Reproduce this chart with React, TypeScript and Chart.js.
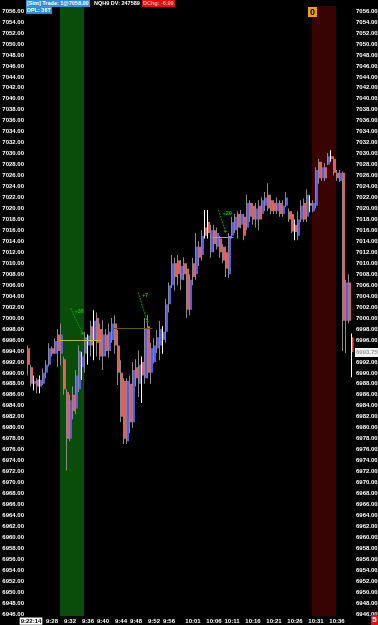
import { useEffect, useRef } from 'react';
import { Chart, registerables } from 'chart.js';

Chart.register(...registerables);

// ---- bar data (tick bars, left to right) ----
const opens = [
  6994.5, 6991.0, 6988.0, 6988.8, 6987.5, 6988.0, 6990.0, 6991.5, 6994.5, 6993.5,
  6997.0, 6993.5, 6992.5, 6986.5, 6978.0, 6986.0, 6983.5, 6987.0, 6991.0, 6993.5,
  6995.0, 6998.5, 6996.0, 7000.0, 6998.0, 6993.0, 6997.0, 6994.0, 6996.0, 6999.0,
  6995.0, 6990.0, 6988.5, 6977.5, 6988.0, 6981.0, 6991.0, 6988.0, 6992.0, 6989.0,
  6998.5, 6990.0, 6992.0, 6994.5, 6995.0, 6996.0, 6997.5, 7002.5, 7006.0, 7010.0,
  7010.5, 7007.0, 7010.0, 7009.0, 7001.5, 7010.0, 7008.0, 7013.0, 7011.5, 7016.5,
  7017.5, 7012.0, 7016.0, 7013.0, 7014.5, 7013.0, 7012.0, 7008.0, 7015.0, 7016.0,
  7019.0, 7017.0, 7018.5, 7016.5, 7021.0, 7020.5, 7018.0, 7020.5, 7019.0, 7020.5,
  7022.5, 7021.5, 7021.0, 7019.5, 7021.0, 7019.0, 7020.5, 7019.5, 7019.0, 7017.0,
  7015.0, 7018.0, 7021.0, 7018.5, 7021.0, 7019.5, 7020.5, 7028.5, 7025.5, 7027.5,
  7028.0, 7029.5, 7029.0, 7026.5, 7025.0, 7026.5, 6999.5, 7006.5, 6996.5,
];
const highs = [
  6995.0, 6991.5, 6989.5, 6989.0, 6989.5, 6990.8, 6992.3, 6995.4, 6994.8, 6996.3,
  6998.0, 6999.0, 6993.0, 6987.0, 6986.0, 6987.5, 6990.5, 6995.0, 6993.8, 6997.5,
  6997.0, 6999.5, 7001.4, 7001.0, 6999.0, 6999.6, 6998.0, 6999.0, 7000.0, 7000.5,
  6997.8, 6992.3, 6989.0, 6989.0, 6989.5, 6992.0, 6992.5, 6994.1, 6993.0, 7000.0,
  7000.5, 6995.5, 6996.3, 6997.8, 6999.5, 6998.5, 7003.5, 7006.5, 7011.5, 7011.0,
  7011.5, 7010.6, 7011.1, 7010.0, 7008.0, 7011.0, 7015.5, 7014.0, 7016.0, 7019.7,
  7019.7, 7017.0, 7017.0, 7016.5, 7015.0, 7013.5, 7013.0, 7015.5, 7018.5, 7019.0,
  7019.5, 7019.7, 7019.0, 7022.5, 7021.5, 7021.0, 7021.0, 7021.5, 7022.0, 7023.0,
  7024.6, 7022.5, 7021.5, 7022.0, 7021.5, 7021.5, 7023.0, 7020.0, 7019.5, 7018.0,
  7019.5, 7021.5, 7021.8, 7023.5, 7022.4, 7021.5, 7027.5, 7029.0, 7028.5, 7028.3,
  7030.1, 7030.6, 7029.5, 7027.0, 7027.0, 7026.8, 7007.0, 7008.0, 6997.2,
];
const lows = [
  6989.5, 6987.5, 6986.8, 6986.3, 6986.3, 6987.8, 6989.0, 6991.2, 6993.0, 6993.5,
  6991.0, 6991.4, 6986.0, 6972.2, 6977.5, 6981.5, 6982.5, 6986.5, 6988.7, 6990.0,
  6991.5, 6993.0, 6992.3, 6993.0, 6992.3, 6990.5, 6993.0, 6992.8, 6995.5, 6993.5,
  6987.8, 6981.0, 6977.0, 6977.0, 6979.0, 6980.0, 6987.5, 6985.6, 6984.5, 6988.0,
  6989.0, 6988.0, 6991.7, 6993.6, 6992.3, 6993.5, 6995.5, 7001.0, 7005.5, 7005.0,
  7006.0, 7005.1, 7006.9, 7000.0, 7000.5, 7006.0, 7007.0, 7009.5, 7010.5, 7014.5,
  7014.5, 7011.0, 7012.0, 7012.5, 7011.0, 7010.0, 7007.5, 7007.3, 7014.5, 7015.5,
  7014.5, 7016.4, 7014.2, 7016.0, 7017.5, 7017.0, 7016.5, 7016.0, 7018.0, 7019.5,
  7019.5, 7019.0, 7019.0, 7019.0, 7018.5, 7018.5, 7020.2, 7017.5, 7015.5, 7014.2,
  7014.2, 7017.5, 7017.5, 7017.5, 7019.3, 7019.3, 7020.0, 7024.5, 7025.0, 7025.0,
  7027.9, 7028.5, 7026.0, 7025.0, 7024.8, 6994.0, 6993.6, 6999.0, 6989.2,
];
const closes = [
  6991.5, 6988.0, 6988.5, 6987.5, 6988.7, 6990.0, 6991.5, 6994.5, 6993.5, 6995.8,
  6994.0, 6997.0, 6987.0, 6978.0, 6985.0, 6983.0, 6989.5, 6994.0, 6993.0, 6996.5,
  6996.8, 6995.0, 6999.5, 6995.5, 6993.0, 6997.0, 6994.0, 6997.5, 6999.0, 6995.0,
  6990.0, 6982.0, 6978.0, 6988.5, 6981.0, 6990.5, 6989.0, 6991.5, 6989.5, 6998.0,
  6990.0, 6994.5, 6995.0, 6996.5, 6998.0, 6997.5, 7002.5, 7006.0, 7010.0, 7007.5,
  7008.0, 7009.5, 7008.0, 7001.5, 7007.0, 7007.5, 7013.0, 7011.0, 7015.0, 7015.0,
  7015.5, 7016.0, 7013.5, 7015.5, 7012.0, 7010.5, 7009.0, 7015.0, 7017.5, 7018.5,
  7016.5, 7019.0, 7015.0, 7021.0, 7018.5, 7018.0, 7020.0, 7018.0, 7021.5, 7022.0,
  7020.0, 7019.5, 7019.5, 7021.0, 7019.0, 7020.5, 7022.0, 7018.0, 7015.8, 7015.7,
  7018.0, 7020.5, 7018.0, 7022.5, 7020.5, 7021.0, 7027.0, 7025.5, 7027.5, 7025.5,
  7029.5, 7029.0, 7026.5, 7025.5, 7026.5, 6999.5, 7006.5, 6999.5, 6993.75,
];

// ---- time axis labels (bar index -> label) ----
const timeTickIndex = [1, 8, 14, 20, 25, 31, 36, 42, 47, 55, 62, 68, 75, 82, 89, 96, 103];
const timeTickText = ['9:22:14', '9:28', '9:32', '9:36', '9:40', '9:44', '9:48', '9:52', '9:56',
  '10:01', '10:06', '10:11', '10:16', '10:21', '10:26', '10:31', '10:36'];

// ---- price axis ----
const priceMin = 6946;
const priceMax = 7056;
const priceStep = 2;
const priceTicks: number[] = [];
for (let v = priceMin; v <= priceMax + 1e-9; v += priceStep) priceTicks.push(v);

// ---- session shading (bar index ranges) ----
const bandStart = [11, 95];
const bandEnd = [18, 102];

// ---- horizontal level lines ----
const levelPrice = [6996.0, 6998.25, 7014.75];
const levelFrom = [11, 29, 62];
const levelTo = [24, 41, 68];

// ---- trade arrows ----
const arrowFromIdx = [14.2, 36.7, 63.5];
const arrowFromPrice = [7001.8, 7004.7, 7019.7];
const arrowToIdx = [18.2, 39.8, 65.8];
const arrowToPrice = [6997.2, 6999.3, 7015.8];
const arrowText = ['+36', '+7', '+29'];

const categories = opens.map((_, i) => String(i));
const lastPrice = closes[closes.length - 1];

const FONT = "'Liberation Sans', Arial, sans-serif";

export default function App() {
  const ref = useRef<HTMLCanvasElement>(null);

  useEffect(() => {
    document.body.style.margin = '0';
    document.body.style.background = '#000';
    const canvas = ref.current!;
    const tickFont = { size: 6, weight: 'bold' as const, family: FONT };

    const bandsPlugin = {
      id: 'bands',
      beforeDatasetsDraw(chart: any) {
        const { ctx, chartArea, scales } = chart;
        const colors = ['#0a4c0a', '#3a0303'];
        ctx.save();
        bandStart.forEach((s, k) => {
          const x0 = Math.round(scales.x.getPixelForValue(s - 0.5));
          const x1 = Math.round(scales.x.getPixelForValue(bandEnd[k] + 0.5));
          ctx.fillStyle = colors[k];
          ctx.fillRect(x0, chartArea.top, x1 - x0, chartArea.bottom - chartArea.top);
        });
        ctx.restore();
      },
    };

    const annotPlugin = {
      id: 'annot',
      afterDatasetsDraw(chart: any) {
        const { ctx, scales } = chart;
        const y = scales.yR;
        const x = scales.x;
        const levelColors = ['#b8b84a', '#5c5c12', '#c8a040'];
        ctx.save();
        levelPrice.forEach((p, k) => {
          const yy = Math.round(y.getPixelForValue(p)) + 0.5;
          ctx.strokeStyle = levelColors[k];
          ctx.lineWidth = 1;
          ctx.beginPath();
          ctx.moveTo(x.getPixelForValue(levelFrom[k] - 0.5), yy);
          ctx.lineTo(x.getPixelForValue(levelTo[k] + 0.5), yy);
          ctx.stroke();
        });
        ctx.strokeStyle = '#00a800';
        ctx.fillStyle = '#00c000';
        ctx.font = `bold 5.5px ${FONT}`;
        ctx.textBaseline = 'middle';
        arrowFromIdx.forEach((fi, k) => {
          const x0 = x.getPixelForValue(fi);
          const y0 = y.getPixelForValue(arrowFromPrice[k]);
          const x1 = x.getPixelForValue(arrowToIdx[k]);
          const y1 = y.getPixelForValue(arrowToPrice[k]);
          ctx.setLineDash([2, 1]);
          ctx.beginPath();
          ctx.moveTo(x0, y0);
          ctx.lineTo(x1, y1);
          ctx.stroke();
          ctx.setLineDash([]);
          ctx.beginPath();
          ctx.moveTo(x1 - 1.5, y1);
          ctx.lineTo(x1 + 1.5, y1);
          ctx.moveTo(x1, y1 - 1.5);
          ctx.lineTo(x1, y1 + 1.5);
          ctx.stroke();
          ctx.fillText(arrowText[k], x0 + 4, y0 + 3);
        });
        ctx.restore();
      },
    };

    const priceTagPlugin = {
      id: 'priceTag',
      afterDraw(chart: any) {
        const { ctx, chartArea } = chart;
        const yy = Math.round(chart.scales.yR.getPixelForValue(lastPrice));
        ctx.save();
        ctx.fillStyle = '#f2f2f2';
        ctx.fillRect(chartArea.right + 1.5, yy - 4, 378 - chartArea.right - 1.5, 9);
        ctx.fillStyle = '#9a9a9a';
        ctx.font = `bold 6px ${FONT}`;
        ctx.textBaseline = 'middle';
        ctx.textAlign = 'left';
        ctx.fillText(lastPrice.toFixed(2), chartArea.right + 2.5, yy + 0.5);
        ctx.restore();
      },
    };

    const wickColors = highs.map((h, i) =>
      Math.abs(closes[i] - opens[i]) < 0.4 * (h - lows[i]) ? '#ffffff' : '#8a8a8a');
    const bodyColors = closes.map((c, i) => (c < opens[i] ? '#e85a5a' : '#5a5ae8'));

    const yAxis = (position: 'left' | 'right', width: number) => ({
      type: 'linear' as const,
      position,
      min: priceMin - 0.36,
      max: priceMax + 0.91,
      grid: { display: false, drawTicks: false },
      border: { display: false },
      afterBuildTicks: (scale: any) => {
        scale.ticks = priceTicks.map((v) => ({ value: v }));
      },
      afterFit: (scale: any) => {
        scale.width = width;
      },
      ticks: {
        color: '#ffffff',
        font: tickFont,
        padding: 2.5,
        callback: (v: any) => Number(v).toFixed(2),
      },
    });

    const chart = new Chart(canvas, {
      type: 'bar',
      data: {
        labels: categories,
        datasets: [
          {
            label: 'range',
            data: highs.map((h, i) => [lows[i], h]) as any,
            backgroundColor: wickColors,
            barThickness: 1,
            inflateAmount: 0,
            minBarLength: 1,
            yAxisID: 'yR',
          },
          {
            label: 'body',
            data: opens.map((o, i) => [o, closes[i]]) as any,
            backgroundColor: bodyColors,
            barThickness: 2,
            inflateAmount: 0,
            minBarLength: 1,
            yAxisID: 'yR',
          },
        ],
      },
      options: {
        animation: false,
        responsive: false,
        devicePixelRatio: 1,
        layout: { padding: { top: 6, left: 0, right: 0, bottom: 0 } },
        plugins: { legend: { display: false }, tooltip: { enabled: false } },
        scales: {
          x: {
            type: 'category',
            offset: true,
            grid: { display: false, drawTicks: false },
            border: { display: false },
            afterFit: (scale: any) => {
              scale.height = 9;
            },
            ticks: {
              autoSkip: false,
              maxRotation: 0,
              minRotation: 0,
              padding: 1.5,
              font: tickFont,
              color: (c: any) => (c.index === timeTickIndex[0] ? '#000000' : '#ffffff'),
              showLabelBackdrop: (c: any) => c.index === timeTickIndex[0],
              backdropColor: '#ffffff',
              backdropPadding: { top: 0, bottom: 0, left: 1, right: 1 },
              callback: (v: any) => {
                const k = timeTickIndex.indexOf(Number(v));
                return k >= 0 ? timeTickText[k] : '';
              },
            },
          },
          yL: yAxis('left', 26.5),
          yR: yAxis('right', 24.5),
        },
      },
      plugins: [bandsPlugin, annotPlugin, priceTagPlugin],
    });
    return () => chart.destroy();
  }, []);

  const hdr: React.CSSProperties = {
    position: 'absolute',
    font: `bold 5.5px ${FONT}`,
    lineHeight: '7px',
    height: 7,
    whiteSpace: 'nowrap',
    padding: '0 1px',
  };

  return (
    <div style={{ position: 'relative', width: 378, height: 625, background: '#000', overflow: 'hidden' }}>
      <canvas ref={ref} width={378} height={625} style={{ display: 'block', width: 378, height: 625 }} />
      <span style={{ ...hdr, left: 26, top: 0, background: '#2f8fd8', color: '#fff' }}>[Sim] Trade: 1@7058.00</span>
      <span style={{ ...hdr, left: 93, top: 0, color: '#fff' }}>NQH9 DV: 247589</span>
      <span style={{ ...hdr, left: 142, top: 0, background: '#e01010', color: '#ffb0b0' }}>DChg: -6.00</span>
      <span style={{ ...hdr, left: 26, top: 7, background: '#2f8fd8', color: '#fff' }}>DPL: 36T</span>
      <span style={{ ...hdr, left: 308, top: 7, height: 10, lineHeight: '10px', width: 7, background: '#f0a000', color: '#000', font: `bold 9px ${FONT}`, textAlign: 'center' }}>0</span>
      <span style={{ ...hdr, left: 371, top: 615, height: 10, lineHeight: '10px', width: 5, background: '#e01010', color: '#fff', font: `bold 8px ${FONT}`, textAlign: 'center' }}>5</span>
    </div>
  );
}
